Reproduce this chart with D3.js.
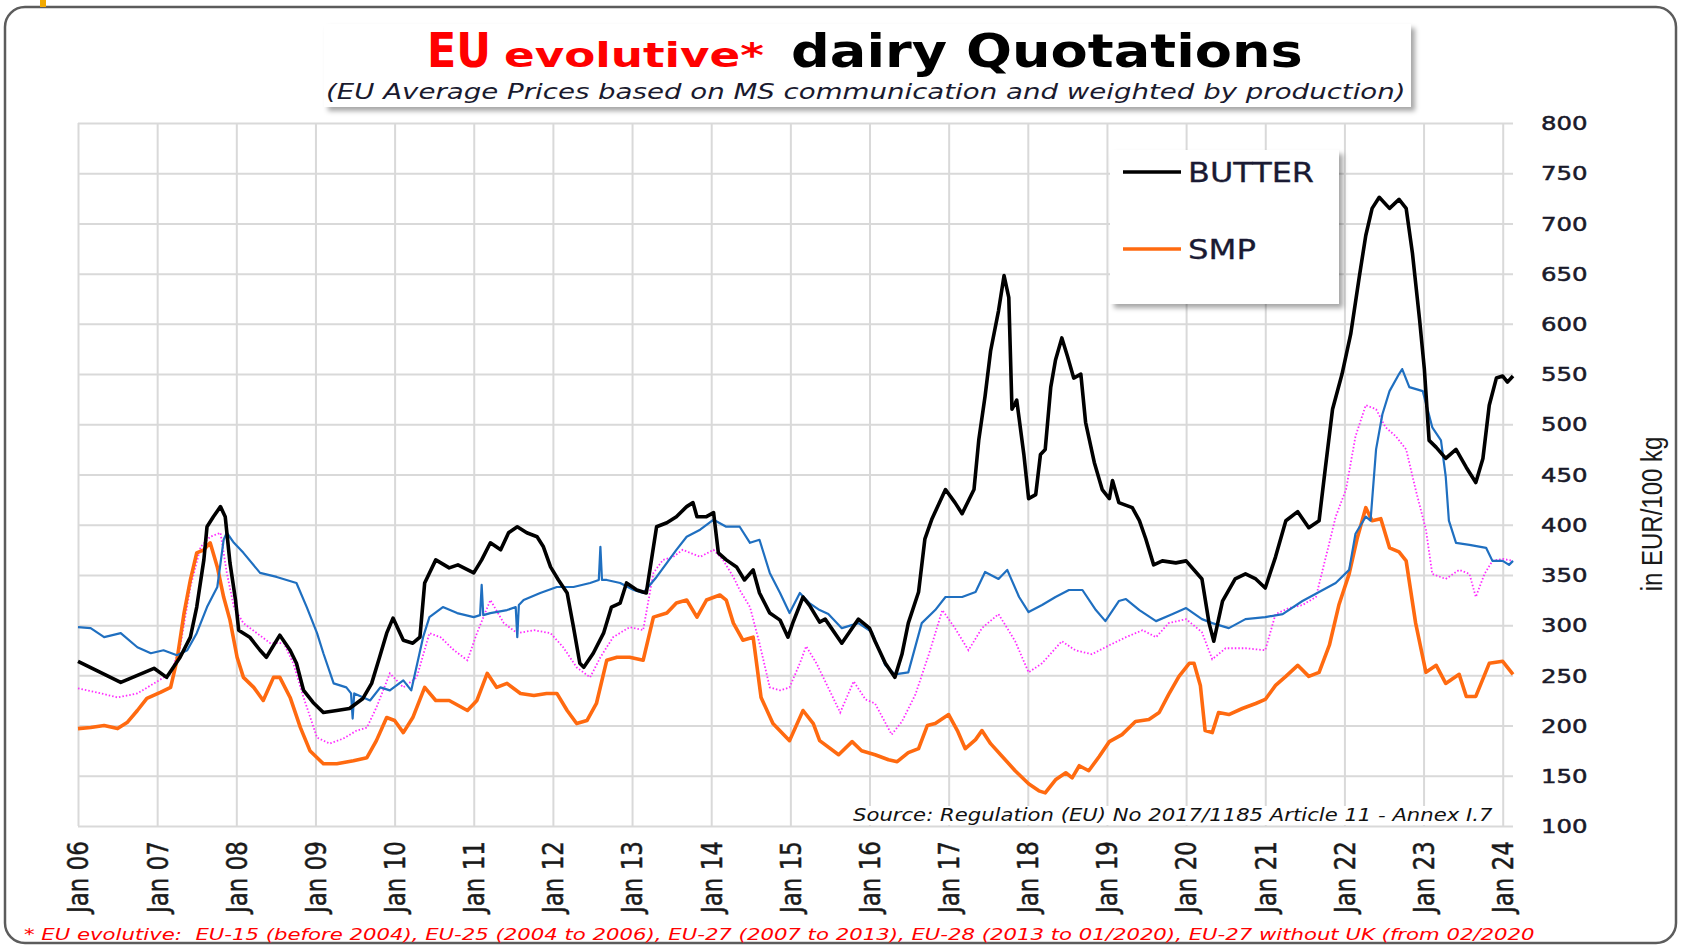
<!DOCTYPE html>
<html>
<head>
<meta charset="utf-8">
<script src="https://cdn.jsdelivr.net/npm/d3@7"></script>
<style>
  body { margin: 0; background: #fff; }
  svg { display: block; }
</style>
</head>
<body>
<div id="chart"></div>
<script>
// ---- data ----
var years = d3.range(2006, 2025);
var tickLabels = ["Jan 06","Jan 07","Jan 08","Jan 09","Jan 10","Jan 11","Jan 12","Jan 13","Jan 14","Jan 15",
                  "Jan 16","Jan 17","Jan 18","Jan 19","Jan 20","Jan 21","Jan 22","Jan 23","Jan 24"];
var yTicks = [100,150,200,250,300,350,400,450,500,550,600,650,700,750,800];

var butter = [[2006.00,264],[2006.54,243],[2006.75,250],[2006.96,257],[2007.12,248],[2007.29,268],[2007.42,288],[2007.50,318],[2007.59,365],[2007.63,398],[2007.71,408],[2007.80,418],[2007.86,408],[2007.92,362],[2007.99,325],[2008.03,295],[2008.17,288],[2008.30,275],[2008.38,268],[2008.55,290],[2008.68,275],[2008.76,262],[2008.85,235],[2008.97,223],[2009.10,213],[2009.27,215],[2009.43,217],[2009.60,227],[2009.71,242],[2009.81,268],[2009.90,292],[2009.98,307],[2010.11,285],[2010.23,282],[2010.32,288],[2010.38,342],[2010.52,365],[2010.69,357],[2010.80,360],[2011.00,352],[2011.10,365],[2011.21,382],[2011.34,375],[2011.44,392],[2011.55,398],[2011.67,392],[2011.80,388],[2011.88,378],[2011.97,358],[2012.07,345],[2012.18,332],[2012.26,298],[2012.34,262],[2012.39,258],[2012.51,272],[2012.64,292],[2012.74,318],[2012.85,322],[2012.93,342],[2013.06,335],[2013.18,332],[2013.31,398],[2013.44,402],[2013.56,408],[2013.69,418],[2013.77,422],[2013.82,408],[2013.94,408],[2014.03,412],[2014.09,372],[2014.19,365],[2014.32,358],[2014.42,345],[2014.53,355],[2014.61,332],[2014.74,312],[2014.87,305],[2014.97,288],[2015.03,302],[2015.16,328],[2015.24,320],[2015.37,303],[2015.44,306],[2015.65,282],[2015.78,297],[2015.86,306],[2016.00,297],[2016.07,284],[2016.20,262],[2016.32,248],[2016.41,271],[2016.49,302],[2016.62,333],[2016.70,386],[2016.79,406],[2016.96,435],[2017.08,422],[2017.17,411],[2017.32,435],[2017.38,484],[2017.46,528],[2017.53,573],[2017.63,613],[2017.70,648],[2017.76,626],[2017.80,515],[2017.86,524],[2017.95,470],[2018.01,426],[2018.10,430],[2018.16,470],[2018.22,475],[2018.29,537],[2018.35,564],[2018.43,586],[2018.50,568],[2018.58,546],[2018.67,550],[2018.73,502],[2018.84,462],[2018.94,435],[2019.03,426],[2019.07,444],[2019.15,422],[2019.32,417],[2019.41,404],[2019.49,386],[2019.59,360],[2019.70,364],[2019.87,362],[2020.00,364],[2020.20,346],[2020.29,302],[2020.35,284],[2020.46,324],[2020.62,346],[2020.75,351],[2020.88,346],[2021.00,337],[2021.13,368],[2021.26,404],[2021.41,413],[2021.55,397],[2021.68,404],[2021.76,457],[2021.85,515],[2021.97,550],[2022.08,590],[2022.19,648],[2022.27,688],[2022.35,715],[2022.44,726],[2022.57,715],[2022.69,724],[2022.78,715],[2022.86,670],[2022.95,604],[2023.01,555],[2023.07,484],[2023.16,477],[2023.28,466],[2023.41,475],[2023.54,457],[2023.66,442],[2023.75,466],[2023.83,519],[2023.92,546],[2024.00,548],[2024.06,542],[2024.13,548]];

var smp = [[2006.00,197],[2006.16,198],[2006.33,200],[2006.50,197],[2006.62,203],[2006.75,215],[2006.87,227],[2007.04,233],[2007.17,238],[2007.25,265],[2007.34,312],[2007.42,345],[2007.50,372],[2007.59,375],[2007.67,382],[2007.76,358],[2007.84,328],[2007.92,305],[2008.01,268],[2008.09,248],[2008.22,238],[2008.34,225],[2008.47,248],[2008.55,248],[2008.68,228],[2008.81,198],[2008.93,175],[2009.10,162],[2009.27,162],[2009.48,165],[2009.65,168],[2009.77,185],[2009.90,208],[2010.00,205],[2010.11,193],[2010.23,208],[2010.38,238],[2010.52,225],[2010.69,225],[2010.92,215],[2011.04,225],[2011.17,252],[2011.29,238],[2011.42,242],[2011.59,232],[2011.76,230],[2011.92,232],[2012.05,232],[2012.18,215],[2012.30,202],[2012.43,205],[2012.55,222],[2012.68,265],[2012.81,268],[2012.97,268],[2013.14,265],[2013.27,308],[2013.44,312],[2013.56,322],[2013.69,325],[2013.82,308],[2013.94,325],[2014.11,330],[2014.19,325],[2014.28,302],[2014.40,285],[2014.53,288],[2014.63,228],[2014.78,202],[2014.99,185],[2015.16,215],[2015.29,202],[2015.37,185],[2015.61,171],[2015.78,184],[2015.90,175],[2016.07,171],[2016.24,166],[2016.35,164],[2016.49,173],[2016.62,177],[2016.73,200],[2016.83,202],[2017.00,211],[2017.11,195],[2017.21,177],[2017.34,186],[2017.42,195],[2017.53,182],[2017.68,169],[2017.84,155],[2018.01,142],[2018.14,135],[2018.22,133],[2018.35,146],[2018.48,153],[2018.56,148],[2018.65,160],[2018.77,155],[2018.90,169],[2019.03,184],[2019.19,191],[2019.36,204],[2019.53,206],[2019.66,213],[2019.78,231],[2019.91,249],[2020.04,262],[2020.10,262],[2020.18,240],[2020.24,195],[2020.33,193],[2020.41,213],[2020.54,211],[2020.71,217],[2020.88,222],[2021.00,226],[2021.13,240],[2021.26,249],[2021.41,260],[2021.55,249],[2021.68,253],[2021.81,280],[2021.93,320],[2022.06,351],[2022.16,386],[2022.27,417],[2022.35,404],[2022.46,406],[2022.57,377],[2022.69,373],[2022.78,364],[2022.90,302],[2023.03,253],[2023.16,260],[2023.28,242],[2023.45,251],[2023.54,229],[2023.66,229],[2023.83,262],[2024.00,264],[2024.13,251]];

var blueSeries = [[2006.00,298],[2006.16,297],[2006.33,288],[2006.54,292],[2006.75,278],[2006.92,272],[2007.08,275],[2007.25,270],[2007.38,275],[2007.50,292],[2007.63,318],[2007.76,338],[2007.84,385],[2007.88,392],[2007.97,382],[2008.09,372],[2008.30,352],[2008.51,348],[2008.76,342],[2008.89,318],[2009.02,292],[2009.10,272],[2009.23,242],[2009.39,238],[2009.45,232],[2009.47,207],[2009.49,232],[2009.69,225],[2009.82,238],[2009.94,235],[2010.11,245],[2010.21,235],[2010.36,288],[2010.44,308],[2010.61,318],[2010.79,312],[2011.00,308],[2011.08,310],[2011.10,340],[2011.12,310],[2011.21,312],[2011.42,315],[2011.53,318],[2011.55,288],[2011.57,320],[2011.63,325],[2011.84,332],[2012.05,338],[2012.26,338],[2012.47,342],[2012.58,345],[2012.60,378],[2012.62,345],[2012.68,345],[2012.85,342],[2013.02,335],[2013.14,332],[2013.31,348],[2013.44,362],[2013.56,375],[2013.69,388],[2013.86,395],[2014.03,405],[2014.19,398],[2014.36,398],[2014.49,382],[2014.61,385],[2014.74,352],[2014.87,332],[2014.99,312],[2015.12,332],[2015.24,322],[2015.37,315],[2015.48,311],[2015.65,297],[2015.86,302],[2016.03,293],[2016.20,260],[2016.32,251],[2016.49,253],[2016.66,302],[2016.83,315],[2016.96,328],[2017.17,328],[2017.34,333],[2017.46,353],[2017.63,346],[2017.74,355],[2017.89,328],[2018.01,313],[2018.18,320],[2018.35,328],[2018.52,335],[2018.69,335],[2018.86,315],[2018.98,304],[2019.15,324],[2019.24,326],[2019.41,315],[2019.62,304],[2019.83,311],[2020.00,317],[2020.20,306],[2020.33,302],[2020.54,297],[2020.75,306],[2021.00,308],[2021.22,311],[2021.47,324],[2021.68,333],[2021.89,342],[2022.06,355],[2022.14,391],[2022.27,408],[2022.33,404],[2022.40,475],[2022.48,510],[2022.57,533],[2022.69,550],[2022.73,555],[2022.82,537],[2022.99,533],[2023.11,497],[2023.22,484],[2023.28,448],[2023.32,404],[2023.41,382],[2023.58,380],[2023.79,377],[2023.87,364],[2024.00,364],[2024.08,360],[2024.13,364]];

var magentaSeries = [[2006.00,237],[2006.24,233],[2006.50,228],[2006.75,232],[2006.96,242],[2007.17,252],[2007.29,278],[2007.42,338],[2007.55,378],[2007.67,388],[2007.80,392],[2007.88,352],[2007.97,318],[2008.09,302],[2008.26,292],[2008.43,282],[2008.60,282],[2008.72,262],[2008.85,228],[2009.02,188],[2009.18,182],[2009.35,187],[2009.52,195],[2009.65,198],[2009.77,218],[2009.94,252],[2010.11,238],[2010.28,248],[2010.44,292],[2010.58,288],[2010.75,275],[2010.92,265],[2011.04,292],[2011.21,325],[2011.38,302],[2011.55,292],[2011.76,295],[2011.97,292],[2012.13,278],[2012.30,258],[2012.47,248],[2012.60,268],[2012.76,288],[2012.97,298],[2013.14,295],[2013.27,352],[2013.39,365],[2013.52,368],[2013.64,375],[2013.86,368],[2014.03,375],[2014.15,365],[2014.28,348],[2014.36,335],[2014.49,318],[2014.61,282],[2014.74,238],[2014.87,235],[2014.99,238],[2015.12,262],[2015.20,279],[2015.33,262],[2015.44,244],[2015.63,213],[2015.80,244],[2015.95,226],[2016.07,222],[2016.28,191],[2016.41,204],[2016.58,231],[2016.75,271],[2016.92,315],[2017.08,297],[2017.25,275],[2017.42,297],[2017.63,311],[2017.84,284],[2018.01,253],[2018.18,262],[2018.43,284],[2018.60,275],[2018.81,271],[2019.03,280],[2019.24,288],[2019.45,295],[2019.62,288],[2019.78,302],[2020.00,306],[2020.20,293],[2020.33,266],[2020.50,277],[2020.75,277],[2021.00,275],[2021.13,311],[2021.30,317],[2021.47,320],[2021.64,328],[2021.81,382],[2021.89,408],[2022.02,435],[2022.14,488],[2022.27,519],[2022.40,515],[2022.52,497],[2022.65,488],[2022.78,475],[2022.90,435],[2023.03,395],[2023.11,351],[2023.28,346],[2023.45,355],[2023.58,351],[2023.66,328],[2023.77,351],[2023.87,364],[2024.00,366],[2024.13,364]];

// ---- layout ----
var W = 1682, H = 949;
var m = {left: 78, right: 1513, top: 123, bottom: 826};
var FONT = "'DejaVu Sans', Verdana, sans-serif";

var svg = d3.select("#chart").append("svg")
    .attr("width", W).attr("height", H);

var defs = svg.append("defs");
var shadow = defs.append("filter").attr("id", "shadow")
    .attr("x", "-5%").attr("y", "-10%").attr("width", "115%").attr("height", "130%");
shadow.append("feDropShadow").attr("dx", 4).attr("dy", 4).attr("stdDeviation", 2.5)
    .attr("flood-color", "#000").attr("flood-opacity", 0.35);

// stretch a text node horizontally so it spans [left, left+width]
function fitX(node, left, width) {
  var bb = node.getBBox();
  var s = width / bb.width;
  d3.select(node).attr("transform",
    "translate(" + left + ",0) scale(" + s + ",1) translate(" + (-bb.x) + ",0)");
}

// outer frame
svg.append("rect").attr("x", 5).attr("y", 7).attr("width", 1671).attr("height", 936)
    .attr("rx", 20).attr("fill", "#fff").attr("stroke", "#5c5c5c").attr("stroke-width", 2.5);
svg.append("rect").attr("x", 40).attr("y", 0).attr("width", 6).attr("height", 7).attr("fill", "#f2a900");

// scales
var x = d3.scaleLinear().domain([2006, 2024.13]).range([m.left, m.right]);
var y = d3.scaleLinear().domain([100, 800]).range([m.bottom, m.top]);

// grid
var grid = svg.append("g").attr("class", "grid");
grid.append("g").attr("transform", "translate(0," + m.bottom + ")")
    .call(d3.axisBottom(x).tickValues(years).tickSize(-(m.bottom - m.top)).tickFormat(""));
grid.append("g").attr("transform", "translate(" + m.left + ",0)")
    .call(d3.axisLeft(y).tickValues(yTicks).tickSize(-(m.right - m.left)).tickFormat(""));
grid.selectAll(".domain").remove();
grid.selectAll("line").attr("stroke", "#d9d9d9").attr("stroke-width", 2);

// series
var line = d3.line().x(function(d){ return x(d[0]); }).y(function(d){ return y(d[1]); });

svg.append("path").datum(magentaSeries).attr("d", line).attr("fill", "none")
    .attr("stroke", "#ff2bff").attr("stroke-width", 1.8).attr("stroke-dasharray", "1.5,2");
svg.append("path").datum(smp).attr("d", line).attr("fill", "none")
    .attr("stroke", "#ff6a10").attr("stroke-width", 3.6).attr("stroke-linejoin", "round");
svg.append("path").datum(blueSeries).attr("d", line).attr("fill", "none")
    .attr("stroke", "#1f6fc0").attr("stroke-width", 2.2).attr("stroke-linejoin", "round");
svg.append("path").datum(butter).attr("d", line).attr("fill", "none")
    .attr("stroke", "#000").attr("stroke-width", 3.6).attr("stroke-linejoin", "round");

// y tick labels (right side)
var yl = svg.append("g").attr("transform", "translate(1541,0) scale(1.22,1)");
yl.selectAll("text").data(yTicks).join("text")
    .attr("x", 0).attr("y", function(d){ return y(d); }).attr("dy", "0.36em")
    .attr("font-family", FONT).attr("font-size", 20).attr("fill", "#1a1a2a")
    .attr("stroke", "#1a1a2a").attr("stroke-width", 0.5)
    .text(function(d){ return d; });

// y axis title
svg.append("text")
    .attr("transform", "translate(1652,514) scale(1.2,1) rotate(-90)")
    .attr("text-anchor", "middle").attr("dy", "0.35em")
    .attr("font-family", "'Liberation Sans', Arial, sans-serif").attr("font-size", 24)
    .attr("fill", "#1a1a1a").text("in EUR/100 kg");

// x tick labels (rotated)
svg.append("g").selectAll("text").data(years).join("text")
    .attr("transform", function(d){ return "translate(" + x(d) + ",841) scale(1.25,1) rotate(-90)"; })
    .attr("text-anchor", "end").attr("dy", "0.36em")
    .attr("font-family", FONT).attr("font-size", 23).attr("fill", "#1a1a1a")
    .attr("stroke", "#1a1a1a").attr("stroke-width", 0.4)
    .text(function(d, i){ return tickLabels[i]; });

// source note
svg.append("rect").attr("x", 849).attr("y", 806).attr("width", 650).attr("height", 19).attr("fill", "#fff");
var src = svg.append("text").attr("y", 821)
    .attr("font-family", FONT).attr("font-size", 17).attr("font-style", "italic").attr("fill", "#111")
    .text("Source: Regulation (EU) No 2017/1185 Article 11 - Annex I.7");
fitX(src.node(), 853, 640);

// title box
svg.append("rect").attr("x", 324).attr("y", 24).attr("width", 1087).attr("height", 83)
    .attr("fill", "#fff").attr("filter", "url(#shadow)");
var titleParts = [
  {text: "EU", size: 48, color: "#ff0000", left: 427, width: 64},
  {text: "evolutive*", size: 33, color: "#ff0000", left: 504, width: 260},
  {text: "dairy Quotations", size: 46, color: "#000", left: 791, width: 512}
];
titleParts.forEach(function(p) {
  var t = svg.append("text").attr("y", 67)
      .attr("font-family", FONT).attr("font-weight", "bold")
      .attr("font-size", p.size).attr("fill", p.color).text(p.text);
  fitX(t.node(), p.left, p.width);
});

var sub = svg.append("text").attr("y", 99)
    .attr("font-family", FONT).attr("font-size", 21).attr("font-style", "italic").attr("fill", "#1a1a2e")
    .text("(EU Average Prices based on MS communication and weighted by production)");
fitX(sub.node(), 326, 1080);

// legend
var lg = svg.append("g");
lg.append("rect").attr("x", 1110).attr("y", 150).attr("width", 229).attr("height", 154)
    .attr("fill", "#fff").attr("filter", "url(#shadow)");
var legendItems = [{name: "BUTTER", color: "#000", ly: 172, ty: 182},
                   {name: "SMP", color: "#ff6a10", ly: 249, ty: 259}];
legendItems.forEach(function(it) {
  lg.append("line").attr("x1", 1123).attr("x2", 1181).attr("y1", it.ly).attr("y2", it.ly)
      .attr("stroke", it.color).attr("stroke-width", 3.5);
  var t = lg.append("text").attr("y", it.ty)
      .attr("font-family", FONT).attr("font-size", 26).attr("fill", "#1a1a33")
      .attr("stroke", "#1a1a33").attr("stroke-width", 0.3).text(it.name);
  fitX(t.node(), 1188, it.name === "BUTTER" ? 126 : 68);
});

// footnote
var foot = svg.append("text").attr("y", 940)
    .attr("font-family", FONT).attr("font-size", 16).attr("font-style", "italic").attr("fill", "#ff0000")
    .attr("xml:space", "preserve")
    .text("* EU evolutive:  EU-15 (before 2004), EU-25 (2004 to 2006), EU-27 (2007 to 2013), EU-28 (2013 to 01/2020), EU-27 without UK (from 02/2020");
fitX(foot.node(), 24, 1512);
</script>
</body>
</html>
